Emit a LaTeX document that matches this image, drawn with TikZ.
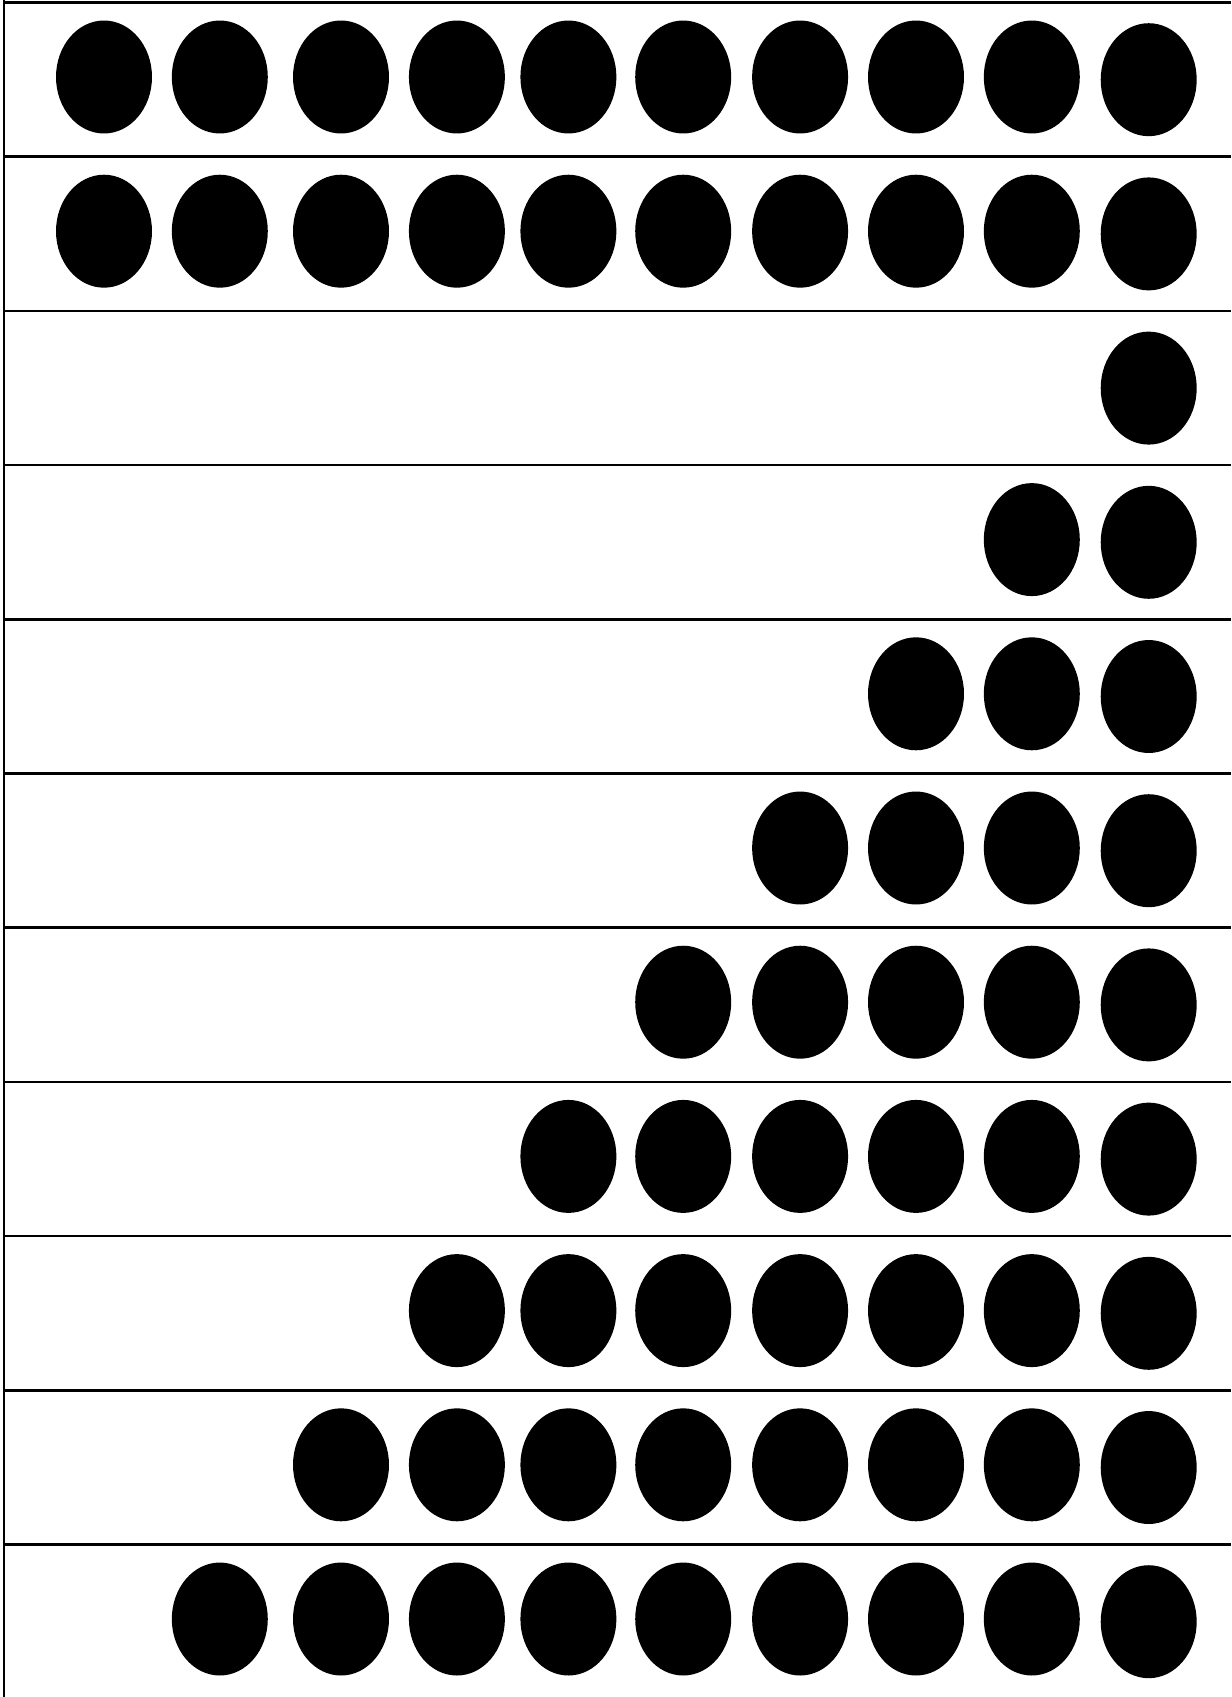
\documentclass[tikz,border=0pt]{standalone}
\usetikzlibrary{shapes.geometric}
\begin{document}
\begin{tikzpicture}[
  x=0.02cm, y=-0.02cm,
  dot/.style={ellipse, fill=black, draw=none, minimum width=1.92cm, minimum height=2.26cm, inner sep=0pt},
  rule/.style={line width=1.4pt}
]
\useasboundingbox (0,0) rectangle (1231,1697);
% frame lines
\draw[rule] (4,0) -- (4,1697);
\foreach \k in {0,...,10}{
  \draw[rule] (4,2.5+\k*154.2) -- (1231,2.5+\k*154.2);
}
% dots, right aligned in each row
\foreach \r/\n in {1/10,2/10,3/1,4/2,5/3,6/4,7/5,8/6,9/7,10/8,11/9}{
  \pgfmathsetmacro\ry{77+(\r-1)*154.2}
  \foreach \c/\cx/\dy in {1/104/0,2/219.8/0,3/341/0,4/456.9/0,5/568.4/0,6/683.2/0,7/800.1/0,8/916/0,9/1031.8/0,10/1148.7/2.7}{
    \ifnum\c>\numexpr10-\n\relax
      \node[dot] (d-\r-\c) at (\cx,\ry+\dy) {};
    \fi
  }
}
\end{tikzpicture}
\end{document}
